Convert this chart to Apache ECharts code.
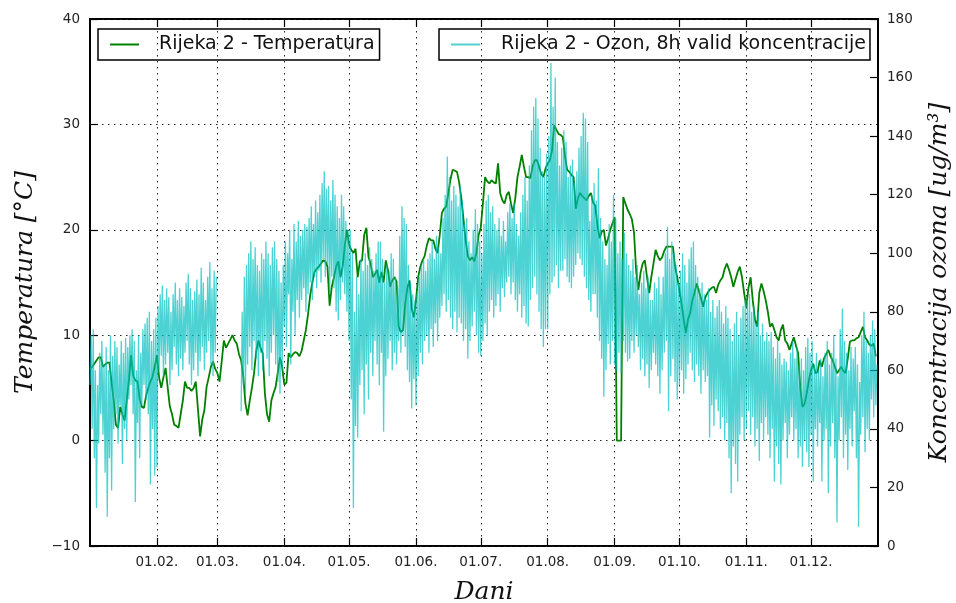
<!DOCTYPE html>
<html>
<head>
<meta charset="utf-8">
<title>Rijeka 2 - temperatura i ozon</title>
<script src="https://cdn.jsdelivr.net/npm/echarts@6/dist/echarts.min.js"></script>
<style>
  html, body { margin: 0; padding: 0; background: #fff; }
  #chart { width: 956px; height: 603px; }
</style>
</head>
<body>
<div id="chart"></div>
<script>
// Day of year (0 = 1 January) where each month starts, and its tick label
const monthDays = [31, 59, 90, 120, 151, 181, 212, 243, 273, 304, 334];
const monthLabels = ['01.02.', '01.03.', '01.04.', '01.05.', '01.06.', '01.07.',
                     '01.08.', '01.09.', '01.10.', '01.11.', '01.12.'];

// Daily mean temperature, °C (one value per day of the year)
const temperature = [
  6.8,7.0,7.3,7.6,7.9,7.9,7.0,7.2,7.4,7.4,
  5.5,3.8,1.5,1.2,3.2,2.5,1.9,3.8,5.7,8.1,
  6.2,5.7,5.6,4.0,3.2,3.1,4.3,5.0,5.6,6.1,
  7.0,8.1,6.0,5.0,6.0,6.9,5.0,3.2,2.5,1.5,
  1.4,1.2,2.5,3.8,5.6,5.0,5.0,4.7,5.0,5.6,
  3.0,0.4,2.0,2.9,5.1,6.0,7.0,7.5,6.8,6.4,
  5.6,7.5,9.5,8.8,9.2,9.6,10.0,9.5,9.2,8.2,
  7.6,6.1,3.5,2.4,3.8,5.0,6.4,8.5,9.5,8.8,
  8.3,4.5,2.5,1.8,3.8,4.5,5.1,6.5,7.9,7.0,
  5.3,5.5,8.3,7.9,8.2,8.4,8.3,8.0,8.5,9.5,
  10.5,12.0,13.8,15.0,16.0,16.3,16.5,16.8,17.1,17.0,
  16.5,12.8,14.6,15.5,16.5,17.0,15.5,16.5,18.4,20.0,
  18.6,18.1,17.8,18.2,15.5,17.0,17.1,19.5,20.2,17.4,
  16.8,15.5,15.8,16.2,15.0,16.0,15.0,17.1,16.2,14.6,
  15.2,15.5,15.1,10.8,10.3,10.5,13.0,14.5,15.2,12.5,
  11.7,13.3,15.5,16.5,17.1,17.5,18.5,19.2,19.0,19.0,
  18.2,17.8,19.5,21.6,22.0,22.2,23.5,24.8,25.7,25.6,
  25.5,24.5,23.0,21.0,19.0,17.5,17.1,17.4,17.0,17.8,
  19.5,20.2,22.5,25.0,24.6,24.4,24.7,24.5,24.4,26.3,
  23.5,22.8,22.5,23.3,23.6,22.5,21.6,23.0,25.0,26.0,
  27.1,26.0,25.0,25.0,24.9,26.0,26.6,26.6,26.0,25.3,
  25.0,25.8,26.3,26.6,27.5,29.9,29.5,29.1,29.0,28.8,
  27.0,25.7,25.5,25.2,25.0,22.0,23.0,23.5,23.2,23.0,
  22.8,23.2,23.5,22.6,22.3,20.5,19.2,19.8,20.0,18.5,
  19.2,20.0,20.6,21.2,0,0,0,23.1,22.5,21.9,
  21.5,21.0,19.7,16.0,14.3,15.9,16.8,17.1,15.5,14.0,
  15.5,16.8,18.1,17.5,17.1,17.4,18.0,18.4,18.4,18.4,
  18.4,16.5,15.5,14.3,13.0,11.5,10.2,11.5,12.1,13.3,
  14.0,14.9,14.2,13.5,12.7,13.6,14.0,14.3,14.5,14.6,
  14.0,14.8,15.2,15.5,16.3,16.8,16.2,15.5,14.6,15.3,
  16.0,16.5,15.5,14.0,12.7,14.5,15.5,13.3,11.5,10.8,
  14.0,14.9,14.2,13.3,12.2,10.8,11.1,10.5,9.8,9.5,
  10.5,11.0,9.5,9.2,8.6,9.2,9.8,9.0,8.3,5.0,
  3.2,3.5,4.5,5.7,6.7,7.3,6.4,6.5,7.6,7.0,
  7.8,8.2,8.6,8.0,7.6,7.0,6.4,6.7,7.0,6.6,
  6.4,7.8,9.4,9.5,9.5,9.7,9.8,10.3,10.8,9.8,
  9.5,9.1,9.0,9.2,8.0
];

// Ozone, 8h concentration (ug/m3): night value (00 h) of each day
const ozoneNight = [
  55,40,30,13,35,45,38,25,10,30,
  19,40,45,35,48,28,40,36,50,55,
  45,15,42,30,48,55,50,45,21,40,
  24,27,60,65,58,62,66,55,60,68,
  62,58,64,60,66,70,62,55,60,66,
  58,63,68,60,66,70,62,58,66,
  null,null,null,null,null,null,null,null,null,null,null,
  46,55,52,62,68,60,70,64,58,66,
  60,70,64,58,66,72,62,56,52,60,
  75,68,86,62,80,72,84,78,84,88,
  80,86,90,84,92,88,94,90,98,92,
  96,86,92,88,80,77,84,90,86,80,
  70,50,13,41,37,55,60,45,62,50,
  66,58,70,62,55,66,39,58,64,70,
  60,66,62,70,66,72,68,60,56,47,57,
  48,58,66,62,70,72,66,74,68,76,
  70,78,82,86,80,84,78,74,80,73,
  78,76,70,74,64,70,75,80,72,66,
  65,70,76,72,80,84,78,82,86,80,
  88,85,90,92,86,90,84,80,86,78,
  82,76,75,84,88,92,86,80,74,68,74,
  74,86,90,92,96,88,94,94,98,92,
  90,88,92,96,100,98,96,92,88,84,
  80,86,86,78,70,64,51,60,69,62,70,
  62,60,66,59,70,66,63,64,70,66,
  72,68,60,64,58,62,54,60,66,62,
  58,52,60,66,70,46,58,64,56,50,
  55,60,52,57,62,66,60,56,62,58,
  52,60,56,58,37,48,41,50,46,40,
  44,36,42,30,18,34,28,22,38,44,36,
  40,46,38,44,34,40,29,42,36,44,
  38,30,40,22,34,28,21,36,42,30,
  38,44,36,40,30,34,27,36,32,27,
  38,22,40,34,42,22,36,40,18,34,
  42,30,8,36,44,30,38,26,40,34,
  46,30,6.6,38,44,32,40,36,50,44,48
];

// Ozone, 8h concentration (ug/m3): midday value (12 h) of each day
const ozoneDay = [
  72,74,60,55,66,70,62,68,60,72,
  65,70,68,62,70,66,71,68,72,74,
  70,60,72,66,74,76,78,80,70,74,
  78,82,86,89,84,88,85,80,86,90,
  84,88,85,82,90,93,88,84,87,91,
  86,95,90,84,92,97,88,94,92,
  null,null,null,null,null,null,null,null,null,null,null,
  80,92,96,100,104,98,102,96,94,100,
  98,104,100,96,102,104,98,94,90,96,
  104,100,108,98,110,104,111,106,108,110,
  109,112,116,110,118,114,120,124,128,122,
  123,118,125,120,116,112,120,116,111,108,
  108,100,80,92,86,98,94,100,96,102,
  98,94,100,104,104,98,90,96,94,100,
  98,92,88,106,116,112,110,96,90,86,84,
  86,92,96,98,94,98,100,104,98,106,
  102,100,112,120,133,126,118,123,120,116,
  123,118,110,112,104,100,108,115,110,104,
  100,110,118,120,114,116,110,108,112,106,
  111,104,114,117,112,117,110,106,114,120,
  126,118,130,142,150,153,146,136,128,126,134,
  140,165,150,160,138,130,136,142,138,126,
  130,132,124,128,136,140,148,146,138,111,
  120,124,118,129,112,104,98,96,110,104,120,
  112,100,104,98,107,100,96,94,98,92,
  96,86,90,94,88,92,84,84,90,88,
  92,86,92,100,109,98,104,100,96,90,
  94,100,96,90,98,102,104,96,92,88,
  90,86,84,88,80,84,78,82,84,80,
  76,82,78,74,70,76,80,72,78,82,84,
  84,86,80,82,76,80,72,76,70,73,
  70,73,68,64,70,66,62,64,63,60,
  66,70,64,68,62,64,60,68,71,66,
  70,62,66,60,64,58,66,70,62,66,
  72,64,58,74,81,70,66,60,68,64,
  68,62,56,72,80,70,66,72,77,74,62
];

const tempName = 'Rijeka 2 - Temperatura';
const ozoneName = 'Rijeka 2 - Ozon, 8h valid koncentracije';

const tempData = temperature.map((t, d) => [d, t]);
const ozoneData = [];
const nDays = Math.min(ozoneNight.length, ozoneDay.length);
for (let d = 0; d < nDays; d++) {
  ozoneData.push([d, ozoneNight[d]]);
  ozoneData.push([d + 0.5, ozoneDay[d]]);
}

const tickFont = { fontFamily: 'DejaVu Sans', fontSize: 13.5, color: '#222' };
const nameFont = { fontFamily: 'DejaVu Serif', fontStyle: 'italic', fontSize: 25, color: '#111' };
const gridDots = { color: '#222', width: 1, type: [1.5, 4.5] };
const inTick = { inside: true, length: 8, lineStyle: { color: '#000', width: 1.2 } };
const noLine = { show: false, onZero: false };
const legendText = { fontFamily: 'DejaVu Sans', fontSize: 19, color: '#111' };

const chart = echarts.init(document.getElementById('chart'), null, { renderer: 'canvas' });
chart.setOption({
  animation: false,
  backgroundColor: '#fff',
  grid: {
    left: 90, right: 78, top: 19, bottom: 57,
    containLabel: false, outerBoundsMode: 'none',
    show: true, borderColor: '#000', borderWidth: 2, backgroundColor: 'transparent'
  },
  legend: [
    {
      data: [tempName], left: 98, top: 29,
      padding: [6, 5, 6, 12], itemWidth: 29, itemHeight: 2, icon: 'rect',
      borderColor: '#000', borderWidth: 1.5, borderRadius: 0,
      textStyle: Object.assign({ padding: [0, 0, 0, 15] }, legendText)
    },
    {
      data: [ozoneName], left: 439, top: 29,
      padding: [6, 4, 6, 12], itemWidth: 29, itemHeight: 2, icon: 'rect',
      borderColor: '#000', borderWidth: 1.5, borderRadius: 0,
      textStyle: Object.assign({ padding: [0, 0, 0, 16] }, legendText)
    }
  ],
  xAxis: [
    {
      type: 'value', min: 0, max: 365, position: 'bottom',
      name: 'Dani', nameLocation: 'middle', nameGap: 34,
      nameTextStyle: nameFont,
      axisLine: noLine,
      axisTick: Object.assign({ customValues: monthDays }, inTick),
      axisLabel: Object.assign({
        customValues: monthDays, margin: 9,
        formatter: v => monthLabels[monthDays.indexOf(v)] || ''
      }, tickFont),
      splitLine: { show: true, lineStyle: gridDots }
    },
    {
      type: 'value', min: 0, max: 365, position: 'top',
      axisLine: noLine,
      axisTick: Object.assign({ customValues: monthDays }, inTick),
      axisLabel: { show: false },
      splitLine: { show: false }
    }
  ],
  yAxis: [
    {
      type: 'value', min: -10, max: 40, interval: 10, position: 'left',
      name: 'Temperatura [°C]', nameLocation: 'middle', nameGap: 52, nameRotate: 90,
      nameTextStyle: nameFont,
      axisLine: noLine,
      axisTick: inTick,
      axisLabel: Object.assign({ margin: 10, formatter: v => String(v).replace('-', '\u2212') }, tickFont),
      splitLine: { show: true, lineStyle: gridDots }
    },
    {
      type: 'value', min: 0, max: 180, interval: 20, position: 'right',
      name: 'Koncentracija ozona [ug/m³]', nameLocation: 'middle', nameGap: 49, nameRotate: 90,
      nameTextStyle: nameFont,
      axisLine: noLine,
      axisTick: inTick,
      axisLabel: Object.assign({ margin: 9 }, tickFont),
      splitLine: { show: false }
    }
  ],
  series: [
    {
      name: tempName, type: 'line', xAxisIndex: 0, yAxisIndex: 0,
      data: tempData, symbol: 'none', showSymbol: false,
      lineStyle: { color: '#008000', width: 1.8 }, itemStyle: { color: '#008000' },
      z: 2
    },
    {
      name: ozoneName, type: 'line', xAxisIndex: 0, yAxisIndex: 1,
      data: ozoneData, symbol: 'none', showSymbol: false, connectNulls: false,
      lineStyle: { color: '#00BFBF', width: 1.3, opacity: 0.7 }, itemStyle: { color: '#4FD2D2' },
      z: 3
    }
  ]
});
</script>
</body>
</html>
